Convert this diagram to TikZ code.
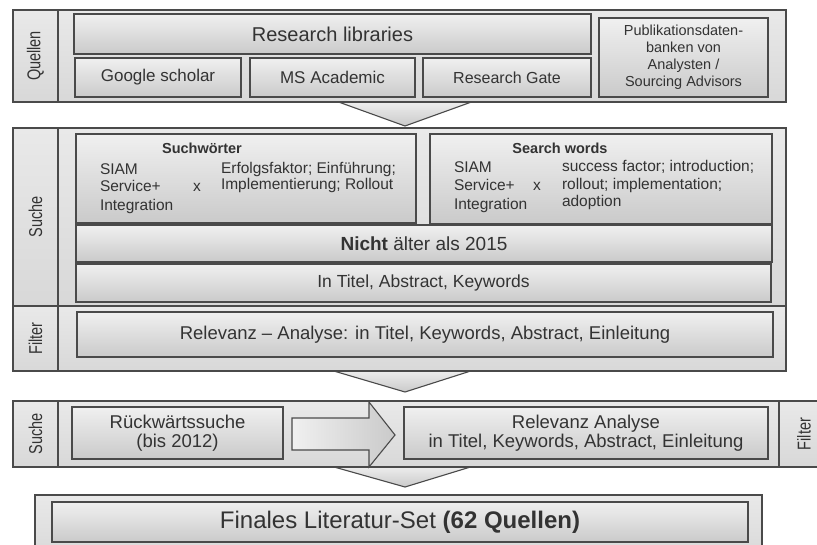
\documentclass[tikz,border=0pt]{standalone}
\usepackage{fontspec}
\setmainfont{Liberation Sans}
\newfontfamily\condfont[FakeStretch=0.78]{Liberation Sans}
\usetikzlibrary {shapes, arrows, positioning, shadows}
\definecolor{ink}{HTML}{333333}
\definecolor{rim}{HTML}{4A4A4A}
\definecolor{hi}{HTML}{F0F0F0}
\definecolor{lo}{HTML}{CACACA}
\definecolor{pnl}{HTML}{E9E9E9}
\definecolor{pnldark}{HTML}{D8D8D8}
\newcommand{\fs}[2]{\fontsize{#1}{#2}\selectfont}

\begin{document}
\begin{tikzpicture}[x=1pt, y=-1pt, line width=1.1pt,
  every node/.style={text=ink, inner sep=0pt, outer sep=0pt},
  wh/.style 2 args={minimum width=#1pt, minimum height=#2pt},
  soft/.style={drop shadow={shadow xshift=0.8pt, shadow yshift=-1.4pt, opacity=0.3}},
  panel/.style={draw=rim, top color=pnl, bottom color=pnldark, soft},
  tag/.style={panel, font=\condfont\fs{18.6}{19}},
  box/.style={draw=rim, top color=hi, bottom color=lo, soft},
  chev/.style={draw=rim, top color=hi, bottom color=lo}]

\useasboundingbox (0,0) rectangle (817,545);

% chevrons between the blocks
\draw [chev] (333,100) -- (405,126) -- (477,100);
\draw [chev] (327,369) -- (405,392) -- (477,369);
\draw [chev] (327,465) -- (405,487) -- (477,465);

% Quellen
\node [tag, wh={45}{92}] (quellen) at (35.5,56) {\rotatebox{90}{Quellen}};
\node [panel, wh={728}{92}] (sources) at (422,56) {};
\node [box, wh={517}{40}, font=\fs{20}{22}] (reslib) at (332.5,34) {Research libraries};
\node [box, wh={166}{39}, font=\fs{17}{19}] (gscholar) at (158,77.5) {Google scholar};
\node [box, wh={165}{39}, font=\fs{17}{19}] (msacad) at (332.5,77.5) {MS Academic};
\node [box, wh={168}{39}, font=\fs{16}{18}] (rgate) at (507,77.5) {Research Gate};
\node [box, wh={169}{79}, align=center, font=\fs{14.5}{17}] (pubdb) at (683.5,57.5)
  {Publikationsdaten-\\banken von\\Analysten /\\Sourcing Advisors};

% Suche und Filter
\node [tag, wh={45}{178}] (suche) at (35.5,217) {\rotatebox{90}{Suche}};
\node [panel, wh={728}{178}] (search) at (422,217) {};
\node [tag, wh={45}{65}] (filter) at (35.5,338.5) {\rotatebox{90}{Filter}};
\node [panel, wh={728}{65}] (filterrow) at (422,338.5) {};

\node [box, wh={340}{89}] (swde) at (246,178.5) {};
\node [font=\bfseries\fs{14.5}{16}, anchor=base] (swdetitle) at (202,154) {Suchwörter};
\begin{scope}[every node/.append style={font=\fs{15.5}{18}, anchor=base west}]
\node (deA) at (100,175) {SIAM};
\node (deB) at (100,192) {Service+};
\node (deC) at (100,211) {Integration};
\node [anchor=base] (dex) at (197,192) {x};
\node (deD) at (221,174) {Erfolgsfaktor; Einführung;};
\node (deE) at (221,190) {Implementierung; Rollout};
\end{scope}

\node [box, wh={342}{90}] (swen) at (601,179) {};
\node [font=\bfseries\fs{14.5}{16}, anchor=base] (swentitle) at (560,154) {Search words};
\begin{scope}[every node/.append style={font=\fs{15.5}{17}, anchor=base west}]
\node (enA) at (454,173) {SIAM};
\node (enB) at (454,191) {Service+};
\node (enC) at (454,210) {Integration};
\node [anchor=base] (enx) at (537,191) {x};
\node (enD) at (562,172) {success factor; introduction;};
\node (enE) at (562,190) {rollout; implementation;};
\node (enF) at (562,207) {adoption};
\end{scope}

\node [box, wh={696}{37}, font=\fs{19}{21}] (nicht) at (424,243.5) {\textbf{Nicht} älter als 2015};
\node [box, wh={695}{38}, font=\fs{17.5}{19}] (intitel) at (423.5,283) {In Titel, Abstract, Keywords};
\node [box, wh={696}{45}, font=\fs{18.5}{20}] (relfilter) at (425,334.5)
  {Relevanz – Analyse: in Titel, Keywords, Abstract, Einleitung};

% Rueckwaertssuche
\node [tag, wh={45}{66}] (suche2) at (35.5,434) {\rotatebox{90}{Suche}};
\node [panel, wh={721}{66}] (back) at (418.5,434) {};
\node [tag, wh={50}{66}] (filter2) at (804,434) {\rotatebox{90}{Filter}};
\node [box, wh={211}{52}, align=center, font=\fs{18.5}{19}] (rueck) at (177.5,433)
  {Rückwärtssuche\\(bis 2012)};
\node [box, wh={364}{52}, align=center, font=\fs{18.5}{19}] (relana) at (586,433)
  {Relevanz Analyse\\in Titel, Keywords, Abstract, Einleitung};
\draw [draw=rim, left color=hi, right color=lo]
  (292,418) -- (369,418) -- (369,402) -- (395,435) -- (369,467) -- (369,450) -- (292,450) -- cycle;

% Ergebnis
\node [panel, wh={727}{65}] (result) at (398.5,527.5) {};
\node [box, wh={696}{40}, font=\fs{24}{26}] (final) at (400,522)
  {Finales Literatur-Set \textbf{(62 Quellen)}};

\end{tikzpicture}
\end{document}
